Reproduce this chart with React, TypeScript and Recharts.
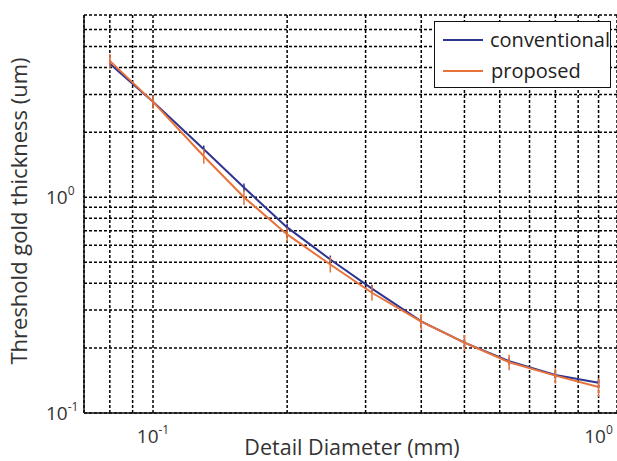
import { CartesianGrid, ErrorBar, Legend, Line, LineChart, XAxis, YAxis } from "recharts";

// CDMAM detail diameters (mm)
const diameters = [0.08, 0.1, 0.13, 0.16, 0.2, 0.25, 0.31, 0.4, 0.5, 0.63, 0.8, 1.0];
const conventional = [4.16, 2.77, 1.67, 1.11, 0.725, 0.515, 0.377, 0.266, 0.212, 0.174, 0.15, 0.138];
const proposed = [4.29, 2.77, 1.55, 1.0, 0.673, 0.488, 0.361, 0.265, 0.212, 0.172, 0.149, 0.132];
const conventionalErr = [0.18, 0.12, 0.07, 0.05, 0.03, 0.022, 0.016, 0.011, 0.009, 0.007, 0.006, 0.007];
const proposedErr = [0.33, 0.2, 0.12, 0.08, 0.05, 0.04, 0.03, 0.022, 0.018, 0.014, 0.012, 0.013];

const xTicks = [0.08, 0.09, 0.1, 0.2, 0.3, 0.4, 0.5, 0.6, 0.7, 0.8, 0.9, 1];
const yTicks = [0.1, 0.2, 0.3, 0.4, 0.5, 0.6, 0.7, 0.8, 0.9, 1, 2, 3, 4, 5, 6, 7];
const xLabels: Record<string, string> = { "0.1": "-1", "1": "0" };
const yLabels: Record<string, string> = { "0.1": "-1", "1": "0" };

const BLUE = "#2e3590";
const ORANGE = "#e8733a";
const FONT = "'Open Sans', sans-serif";

const data = diameters.map((d, i) => ({
  d,
  conv: conventional[i],
  prop: proposed[i],
  convErr: conventionalErr[i],
  propErr: proposedErr[i],
}));

const XTick = (props: any) => {
  const { x, payload } = props;
  const exp = xLabels[String(payload.value)];
  if (!exp) return <g />;
  return (
    <text x={x} y={443} textAnchor="middle" fontFamily={FONT} fontSize={19} fill="#333">
      10
      <tspan dy={-9} fontSize={12}>
        {exp}
      </tspan>
    </text>
  );
};

const YTick = (props: any) => {
  const { y, payload } = props;
  const exp = yLabels[String(payload.value)];
  if (!exp) return <g />;
  return (
    <text x={46} y={y + 7} textAnchor="start" fontFamily={FONT} fontSize={19} fill="#333">
      10
      <tspan dy={-9} fontSize={12}>
        {exp}
      </tspan>
    </text>
  );
};

const LegendBox = () => (
  <div
    style={{
      width: 177,
      height: 67,
      border: "1.5px solid #111",
      background: "#fff",
      fontFamily: FONT,
      fontSize: 20,
      color: "#222",
      boxSizing: "border-box",
    }}
  >
    {[
      { name: "conventional", color: BLUE },
      { name: "proposed", color: ORANGE },
    ].map((item, i) => (
      <div key={i} style={{ display: "flex", alignItems: "center", height: 31, marginTop: i === 0 ? 2 : 0 }}>
        <svg width={56} height={10}>
          <line x1={8} x2={48} y1={5} y2={5} stroke={item.color} strokeWidth={2} />
        </svg>
        <span style={{ lineHeight: "20px" }}>{item.name}</span>
      </div>
    ))}
  </div>
);

export default function App() {
  return (
    <div style={{ position: "absolute", left: 0, top: 0, width: 617, height: 461, overflow: "hidden", background: "#fff" }}>
      <LineChart width={617} height={461} data={data} margin={{ top: 15, right: 0, bottom: 0, left: 0 }}>
        <CartesianGrid stroke="#000" strokeWidth={1.5} strokeDasharray="3 2" />
        <XAxis
          dataKey="d"
          type="number"
          scale="log"
          domain={[0.07, 1.1]}
          allowDataOverflow
          ticks={xTicks}
          interval={0}
          height={48}
          tick={<XTick />}
          tickLine={false}
          axisLine={{ stroke: "#111", strokeWidth: 1.5 }}
          label={() => (
            <text x={352} y={455} textAnchor="middle" fontFamily={FONT} fontSize={21.5} fill="#333">
              Detail Diameter (mm)
            </text>
          )}
        />
        <YAxis
          type="number"
          scale="log"
          domain={[0.1, 7]}
          allowDataOverflow
          ticks={yTicks}
          interval={0}
          width={84}
          tick={<YTick />}
          tickLine={false}
          axisLine={{ stroke: "#111", strokeWidth: 1.5 }}
          label={() => (
            <text
              x={27}
              y={211}
              transform="rotate(-90 27 211)"
              textAnchor="middle"
              fontFamily={FONT}
              fontSize={22}
              fill="#333"
            >
              Threshold gold thickness (um)
            </text>
          )}
        />
        <Line type="linear" dataKey="conv" name="conventional" stroke={BLUE} strokeWidth={2} dot={false} isAnimationActive={false}>
          <ErrorBar dataKey="convErr" width={0} stroke={BLUE} strokeWidth={1.5} direction="y" isAnimationActive={false} />
        </Line>
        <Line type="linear" dataKey="prop" name="proposed" stroke={ORANGE} strokeWidth={2} dot={false} isAnimationActive={false}>
          <ErrorBar dataKey="propErr" width={0} stroke={ORANGE} strokeWidth={1.5} direction="y" isAnimationActive={false} />
        </Line>
        <Legend
          layout="horizontal"
          verticalAlign="middle"
          align="center"
          content={<LegendBox />}
          wrapperStyle={{ position: "absolute", left: 434, top: 21, width: 177, height: 67 }}
        />
      </LineChart>
    </div>
  );
}
